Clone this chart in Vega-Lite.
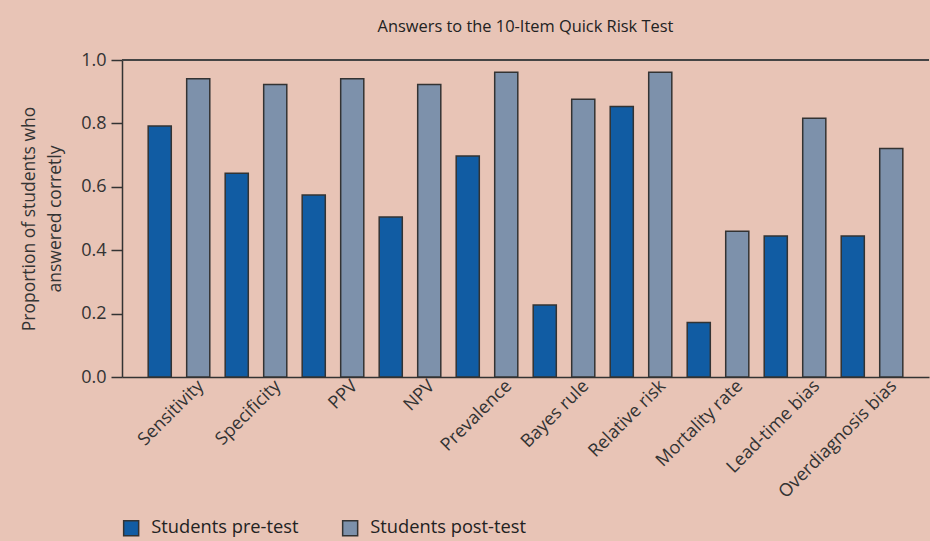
{
  "$schema": "https://vega.github.io/schema/vega-lite/v6.json",
  "width": 807,
  "height": 317,
  "autosize": {"type": "none"},
  "padding": {"left": 122, "top": 60, "right": 1, "bottom": 164},
  "background": "#e8c4b6",
  "title": {
    "text": "Answers to the 10-Item Quick Risk Test",
    "fontSize": 16.4,
    "fontWeight": "normal",
    "font": "Open Sans",
    "color": "#222",
    "anchor": "middle",
    "offset": 16
  },
  "config": {
    "view": {"stroke": null},
    "font": "Open Sans",
    "axis": {"labelFont": "Open Sans", "titleFont": "Open Sans", "labelColor": "#333", "titleColor": "#333", "domainColor": "#333", "tickColor": "#333", "domainWidth": 1.5, "tickWidth": 1.5, "grid": false}
  },
  "data": {
    "values": [
      {"item": "Sensitivity", "group": "Students pre-test", "value": 0.792},
      {"item": "Sensitivity", "group": "Students post-test", "value": 0.941},
      {"item": "Specificity", "group": "Students pre-test", "value": 0.643},
      {"item": "Specificity", "group": "Students post-test", "value": 0.923},
      {"item": "PPV", "group": "Students pre-test", "value": 0.574},
      {"item": "PPV", "group": "Students post-test", "value": 0.941},
      {"item": "NPV", "group": "Students pre-test", "value": 0.505},
      {"item": "NPV", "group": "Students post-test", "value": 0.923},
      {"item": "Prevalence", "group": "Students pre-test", "value": 0.697},
      {"item": "Prevalence", "group": "Students post-test", "value": 0.961},
      {"item": "Bayes rule", "group": "Students pre-test", "value": 0.227},
      {"item": "Bayes rule", "group": "Students post-test", "value": 0.876},
      {"item": "Relative risk", "group": "Students pre-test", "value": 0.853},
      {"item": "Relative risk", "group": "Students post-test", "value": 0.961},
      {"item": "Mortality rate", "group": "Students pre-test", "value": 0.172},
      {"item": "Mortality rate", "group": "Students post-test", "value": 0.46},
      {"item": "Lead-time bias", "group": "Students pre-test", "value": 0.445},
      {"item": "Lead-time bias", "group": "Students post-test", "value": 0.816},
      {"item": "Overdiagnosis bias", "group": "Students pre-test", "value": 0.445},
      {"item": "Overdiagnosis bias", "group": "Students post-test", "value": 0.721}
    ]
  },
  "layer": [
    {
      "mark": {"type": "bar", "stroke": "#333", "strokeWidth": 1.5},
      "encoding": {
        "x": {
          "field": "item",
          "type": "nominal",
          "sort": null,
          "scale": {"paddingInner": 0.2, "paddingOuter": 0.34},
          "axis": {"title": null, "labelAngle": -45, "labelAlign": "right", "labelBaseline": "middle", "labelFontSize": 18, "ticks": false, "labelPadding": 6, "labelOffset": 22, "domain": true}
        },
        "xOffset": {
          "field": "group",
          "type": "nominal",
          "sort": ["Students pre-test", "Students post-test"],
          "scale": {"paddingInner": 0.4, "paddingOuter": 0}
        },
        "y": {
          "field": "value",
          "type": "quantitative",
          "scale": {"domain": [0, 1], "nice": false},
          "axis": {
            "title": ["Proportion of students who", "answered corretly"],
            "titleFontSize": 17.5,
            "titleFontWeight": "normal",
            "titlePadding": 16,
            "titleLineHeight": 26,
            "format": ".1f",
            "values": [0, 0.2, 0.4, 0.6, 0.8, 1.0],
            "labelFontSize": 18,
            "tickSize": 11,
            "labelPadding": 5
          }
        },
        "color": {
          "field": "group",
          "type": "nominal",
          "sort": ["Students pre-test", "Students post-test"],
          "scale": {"domain": ["Students pre-test", "Students post-test"], "range": ["#115ca3", "#7d91ab"]},
          "legend": {
            "title": null,
            "orient": "none",
            "legendX": 0,
            "legendY": 459,
            "direction": "horizontal",
            "symbolType": "square",
            "symbolSize": 225,
            "symbolStrokeColor": "#333",
            "symbolStrokeWidth": 1.5,
            "symbolOpacity": 1,
            "labelFontSize": 18.3,
            "labelColor": "#222",
            "labelOffset": 11,
            "columnPadding": 40
          }
        }
      }
    },
    {
      "mark": {"type": "rule", "color": "#444", "strokeWidth": 1.5},
      "encoding": {"y": {"datum": 1}}
    }
  ]
}
